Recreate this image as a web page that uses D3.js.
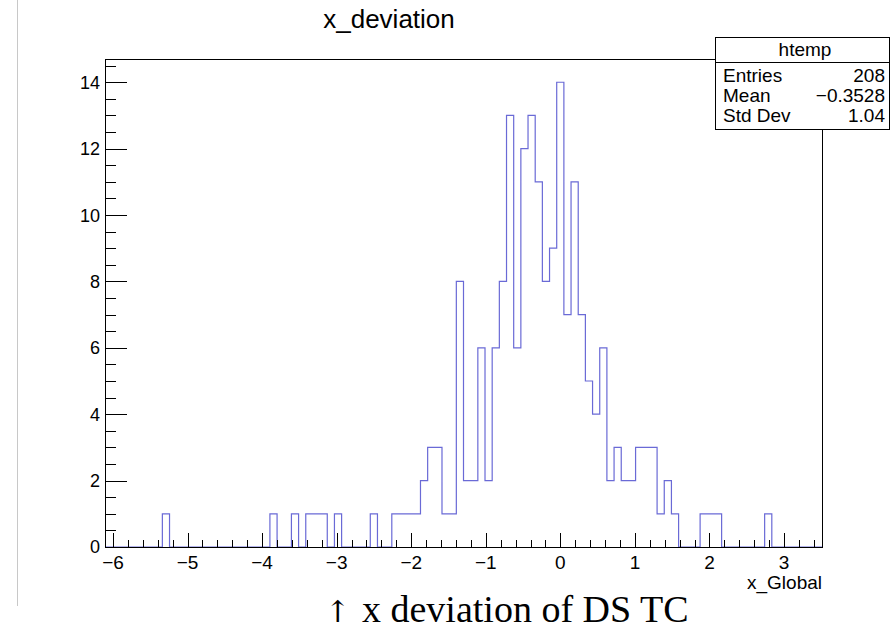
<!DOCTYPE html>
<html>
<head>
<meta charset="utf-8">
<script src="https://cdn.jsdelivr.net/npm/d3@7"></script>
<style>
  body { margin: 0; background: #fff; }
  text { font-family: "Liberation Sans", Arial, sans-serif; }
</style>
</head>
<body>
<div class="container"></div>
<script>
// histogram contents, 100 bins
const binCounts = [
  0, 0, 0, 0, 0, 0, 0, 0, 1, 0,
  0, 0, 0, 0, 0, 0, 0, 0, 0, 0,
  0, 0, 0, 1, 0, 0, 1, 0, 1, 1,
  1, 0, 1, 0, 0, 0, 0, 1, 0, 0,
  1, 1, 1, 1, 2, 3, 3, 1, 1, 8,
  2, 2, 6, 2, 6, 8, 13, 6, 12, 13,
  11, 8, 9, 14, 7, 11, 7, 5, 4, 6,
  2, 3, 2, 2, 3, 3, 3, 1, 2, 1,
  0, 0, 0, 1, 1, 1, 0, 0, 0, 0,
  0, 0, 1, 0, 0, 0, 0, 0, 0, 0
];
const xRange = [-6.107, 3.509];
const xTicks = [-6, -5, -4, -3, -2, -1, 0, 1, 2, 3];
const yTicks = [0, 2, 4, 6, 8, 10, 12, 14];
const statNames = ["Entries", "Mean", "Std Dev"];
const statValues = ["208", "\u22120.3528", "1.04"];

const width = 891;
const height = 638;
const frame = { left: 105, right: 822, top: 59, bottom: 547 };

const svg = d3.select(".container")
  .append("svg")
  .attr("width", width)
  .attr("height", height);

// stray gray line at the left edge of the screenshot
svg.append("line")
  .attr("x1", 17.5).attr("x2", 17.5)
  .attr("y1", 0).attr("y2", 606)
  .attr("stroke", "#c8c8c8");

const x = d3.scaleLinear().domain(xRange).range([frame.left, frame.right]);
const yMax = d3.max(binCounts) * 1.05;
const y = d3.scaleLinear().domain([0, yMax]).range([frame.bottom, frame.top]);

const nBins = binCounts.length;
const binW = (xRange[1] - xRange[0]) / nBins;

// step outline of the histogram
let pts = [];
binCounts.forEach((c, i) => {
  pts.push([x(xRange[0] + i * binW), y(c)]);
  pts.push([x(xRange[0] + (i + 1) * binW), y(c)]);
});
svg.append("path")
  .attr("d", d3.line()(pts))
  .attr("fill", "none")
  .attr("stroke", "#6a6ad6")
  .attr("stroke-width", 1.2);

// frame
svg.append("rect")
  .attr("x", frame.left + 0.5)
  .attr("y", frame.top + 0.5)
  .attr("width", frame.right - frame.left)
  .attr("height", frame.bottom - frame.top)
  .attr("fill", "none")
  .attr("stroke", "black");

// x axis: major every 1, minor every 0.2
const xMinor = d3.range(-30, 18).map(d => d / 5).filter(d => d >= xRange[0] && d <= xRange[1]);
svg.append("g").selectAll("line")
  .data(xMinor)
  .enter()
  .append("line")
  .attr("x1", d => Math.round(x(d)) + 0.5)
  .attr("x2", d => Math.round(x(d)) + 0.5)
  .attr("y1", frame.bottom)
  .attr("y2", d => frame.bottom - (Math.abs(d - Math.round(d)) < 1e-6 ? 14 : 7))
  .attr("stroke", "black");

svg.append("g").selectAll("text")
  .data(xTicks)
  .enter()
  .append("text")
  .attr("x", d => x(d))
  .attr("y", 569)
  .attr("text-anchor", "middle")
  .attr("font-size", 19)
  .text(d => d < 0 ? "\u2212" + Math.abs(d) : d);

svg.append("text")
  .attr("x", frame.right)
  .attr("y", 589)
  .attr("text-anchor", "end")
  .attr("font-size", 19)
  .text("x_Global");

// y axis: major every 2, minor every 0.5
const yMinor = d3.range(0, 30).map(d => d / 2).filter(d => d <= yMax);
svg.append("g").selectAll("line")
  .data(yMinor)
  .enter()
  .append("line")
  .attr("x1", frame.left)
  .attr("x2", d => frame.left + (d % 2 === 0 ? 22 : 11))
  .attr("y1", d => Math.round(y(d)) + 0.5)
  .attr("y2", d => Math.round(y(d)) + 0.5)
  .attr("stroke", "black");

svg.append("g").selectAll("text")
  .data(yTicks)
  .enter()
  .append("text")
  .attr("x", 100)
  .attr("y", d => y(d))
  .attr("dy", "0.36em")
  .attr("text-anchor", "end")
  .attr("font-size", 18)
  .text(d => d);

// title
svg.append("text")
  .attr("x", 389)
  .attr("y", 28)
  .attr("text-anchor", "middle")
  .attr("font-size", 26)
  .text("x_deviation");

// stats box
const box = { x: 715, y: 37, w: 174, h: 92, head: 25 };
svg.append("rect")
  .attr("x", box.x + 0.5).attr("y", box.y + 0.5)
  .attr("width", box.w).attr("height", box.h)
  .attr("fill", "white").attr("stroke", "black");
svg.append("line")
  .attr("x1", box.x).attr("x2", box.x + box.w)
  .attr("y1", box.y + box.head + 0.5).attr("y2", box.y + box.head + 0.5)
  .attr("stroke", "black");
svg.append("text")
  .attr("x", box.x + box.w / 2 + 3)
  .attr("y", box.y + 19)
  .attr("text-anchor", "middle")
  .attr("font-size", 19)
  .text("htemp");
statNames.forEach((s, i) => {
  svg.append("text")
    .attr("x", box.x + 8)
    .attr("y", box.y + 45 + i * 20)
    .attr("font-size", 19)
    .text(s);
  svg.append("text")
    .attr("x", box.x + box.w - 4)
    .attr("y", box.y + 45 + i * 20)
    .attr("text-anchor", "end")
    .attr("font-size", 19)
    .text(statValues[i]);
});

// caption under the plot
const serif = "'Liberation Serif', 'Times New Roman', serif";
svg.append("text")
  .attr("x", 325)
  .attr("y", 622)
  .style("font-family", "'DejaVu Serif', serif")
  .attr("font-size", 30)
  .text("\u2191");
svg.append("text")
  .attr("x", 362)
  .attr("y", 622)
  .style("font-family", serif)
  .attr("font-size", 38)
  .text("x deviation of DS TC");
</script>
</body>
</html>
